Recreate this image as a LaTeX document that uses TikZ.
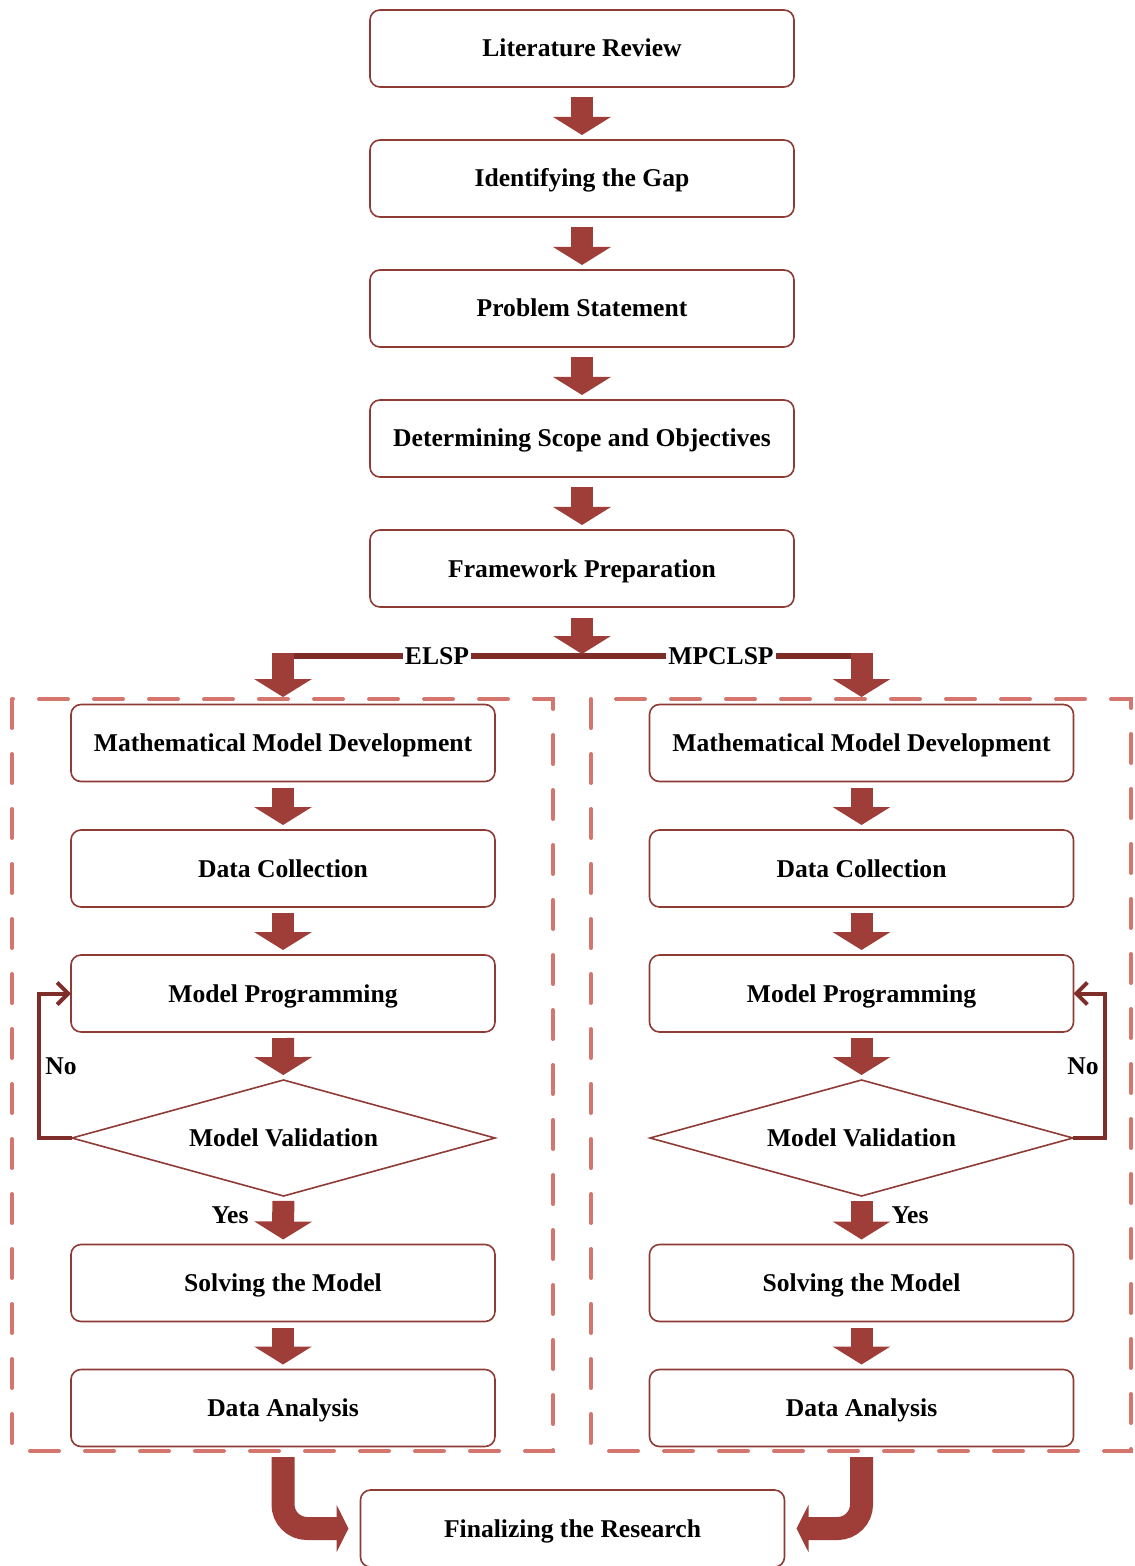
\documentclass[tikz,border=0pt]{standalone}
\usepackage{fontspec}
\setmainfont{Liberation Serif}
\usetikzlibrary{arrows.meta,shapes.geometric,calc}

\definecolor{boxline}{HTML}{8E3A35}
\definecolor{arrowfill}{HTML}{9F3D38}
\definecolor{loopline}{HTML}{7E2D29}
\definecolor{framedash}{HTML}{D4756E}

\tikzset{
  labelfont/.style={font=\fontsize{12.8}{15}\selectfont\bfseries},
  stepbox/.style={draw=boxline, line width=0.8pt, rounded corners=5pt,
    minimum width=212pt, minimum height=38.5pt, inner sep=0pt, outer sep=0pt,
    text height=11.3pt, text depth=2.8pt, labelfont, align=center},
  decision/.style={draw=boxline, line width=0.8pt, shape=diamond, aspect=3.65,
    minimum width=211.5pt, minimum height=58pt, inner sep=0pt, outer sep=0pt,
    text height=11.3pt, text depth=2.8pt, labelfont},
  flowarrow/.style={draw=arrowfill, line width=11pt,
    -{Triangle[width=28.5pt,length=9pt]}, shorten <=3pt, shorten >=2.5pt},
  bendarrow/.style={draw=arrowfill, line width=11.5pt, rounded corners=12pt,
    -{Triangle[width=23.5pt,length=6pt]}, shorten >=6pt},
  joinline/.style={draw=loopline, line width=3pt},
  noloop/.style={draw=loopline, line width=2pt,
    -{Straight Barb[length=5.5pt,width=11pt]}},
  groupframe/.style={draw=framedash, line width=2pt, line cap=round,
    dash pattern=on 14.5pt off 13pt},
  tag/.style={labelfont, inner sep=1pt},
}

\begin{document}
\begin{tikzpicture}[x=0.5pt,y=-0.5pt]
  \useasboundingbox (0,0) rectangle (1134,1566);

  % main sequence
  \node[stepbox] (lit)   at (582,48.5)  {Literature Review};
  \node[stepbox] (gap)   at (582,178.5) {Identifying the Gap};
  \node[stepbox] (prob)  at (582,308.5) {Problem Statement};
  \node[stepbox] (scope) at (582,438.5) {Determining Scope and Objectives};
  \node[stepbox] (frame) at (582,568.5) {Framework Preparation};

  \draw[flowarrow, shorten <=5pt] (lit)   -- (gap);
  \draw[flowarrow, shorten <=5pt] (gap)   -- (prob);
  \draw[flowarrow, shorten <=5pt] (prob)  -- (scope);
  \draw[flowarrow, shorten <=5pt] (scope) -- (frame);

  % dashed groups for the two problems
  \draw[groupframe] (12,699) -- (12,1451) -- (553,1451) -- (553,699) -- cycle;
  \draw[groupframe] (591,699) -- (591,1451) -- (1131,1451) -- (1131,699) -- cycle;
  \coordinate (elsptop) at (283,699);
  \coordinate (elspbottom) at (283,1451);
  \coordinate (mptop) at (861.5,699);
  \coordinate (mpbottom) at (861.5,1451);

  % split into the two branches
  \coordinate (split) at (582,656);
  \draw[joinline] (elsptop |- split) -- (mptop |- split);
  \draw[flowarrow, shorten <=5.5pt, shorten >=1pt] (frame.south) -- (split);
  \draw[flowarrow, shorten <=-1.5pt, shorten >=1pt] (elsptop |- split) -- (elsptop);
  \draw[flowarrow, shorten <=-1.5pt, shorten >=1pt] (mptop |- split) -- (mptop);
  \node[tag, fill=white] (elsp) at (437,656) {ELSP};
  \node[tag, fill=white] (mpclsp) at (721,656) {MPCLSP};

  % ELSP branch
  \node[stepbox] (lmath) at (283,743)    {Mathematical Model Development};
  \node[stepbox] (ldata) at (283,868.5)  {Data Collection};
  \node[stepbox] (lprog) at (283,993.5)  {Model Programming};
  \node[decision] (lval) at (283.5,1138) {Model Validation};
  \node[stepbox] (lsolve) at (283,1283)  {Solving the Model};
  \node[stepbox] (lanal) at (283,1408)   {Data Analysis};

  \draw[flowarrow] (lmath) -- (ldata);
  \draw[flowarrow] (ldata) -- (lprog);
  \draw[flowarrow] (lprog) -- (lval);
  \draw[flowarrow, shorten <=2.5pt] (lval) -- (lsolve);
  \draw[flowarrow] (lsolve) -- (lanal);
  \draw[noloop] (lval.west) -- ++(-33,0) |- (lprog.west);
  \node[tag] (lno) at (61,1066) {No};
  \node[tag] (lyes) at (230,1215) {Yes};

  % MPCLSP branch
  \node[stepbox] (rmath) at (861.5,743)   {Mathematical Model Development};
  \node[stepbox] (rdata) at (861.5,868.5) {Data Collection};
  \node[stepbox] (rprog) at (861.5,993.5) {Model Programming};
  \node[decision] (rval) at (861.5,1138)  {Model Validation};
  \node[stepbox] (rsolve) at (861.5,1283) {Solving the Model};
  \node[stepbox] (ranal) at (861.5,1408)  {Data Analysis};

  \draw[flowarrow] (rmath) -- (rdata);
  \draw[flowarrow] (rdata) -- (rprog);
  \draw[flowarrow] (rprog) -- (rval);
  \draw[flowarrow, shorten <=2.5pt] (rval) -- (rsolve);
  \draw[flowarrow] (rsolve) -- (ranal);
  \draw[noloop] (rval.east) -- ++(32,0) |- (rprog.east);
  \node[tag] (rno) at (1083,1066) {No};
  \node[tag] (ryes) at (910,1215) {Yes};

  % merge
  \node[stepbox] (fin) at (572.5,1528.5) {Finalizing the Research};
  \draw[bendarrow, shorten <=3pt] (elspbottom) -- (elspbottom |- fin.west) -- (fin.west);
  \draw[bendarrow, shorten <=3pt] (mpbottom) -- (mpbottom |- fin.east) -- (fin.east);
\end{tikzpicture}
\end{document}
